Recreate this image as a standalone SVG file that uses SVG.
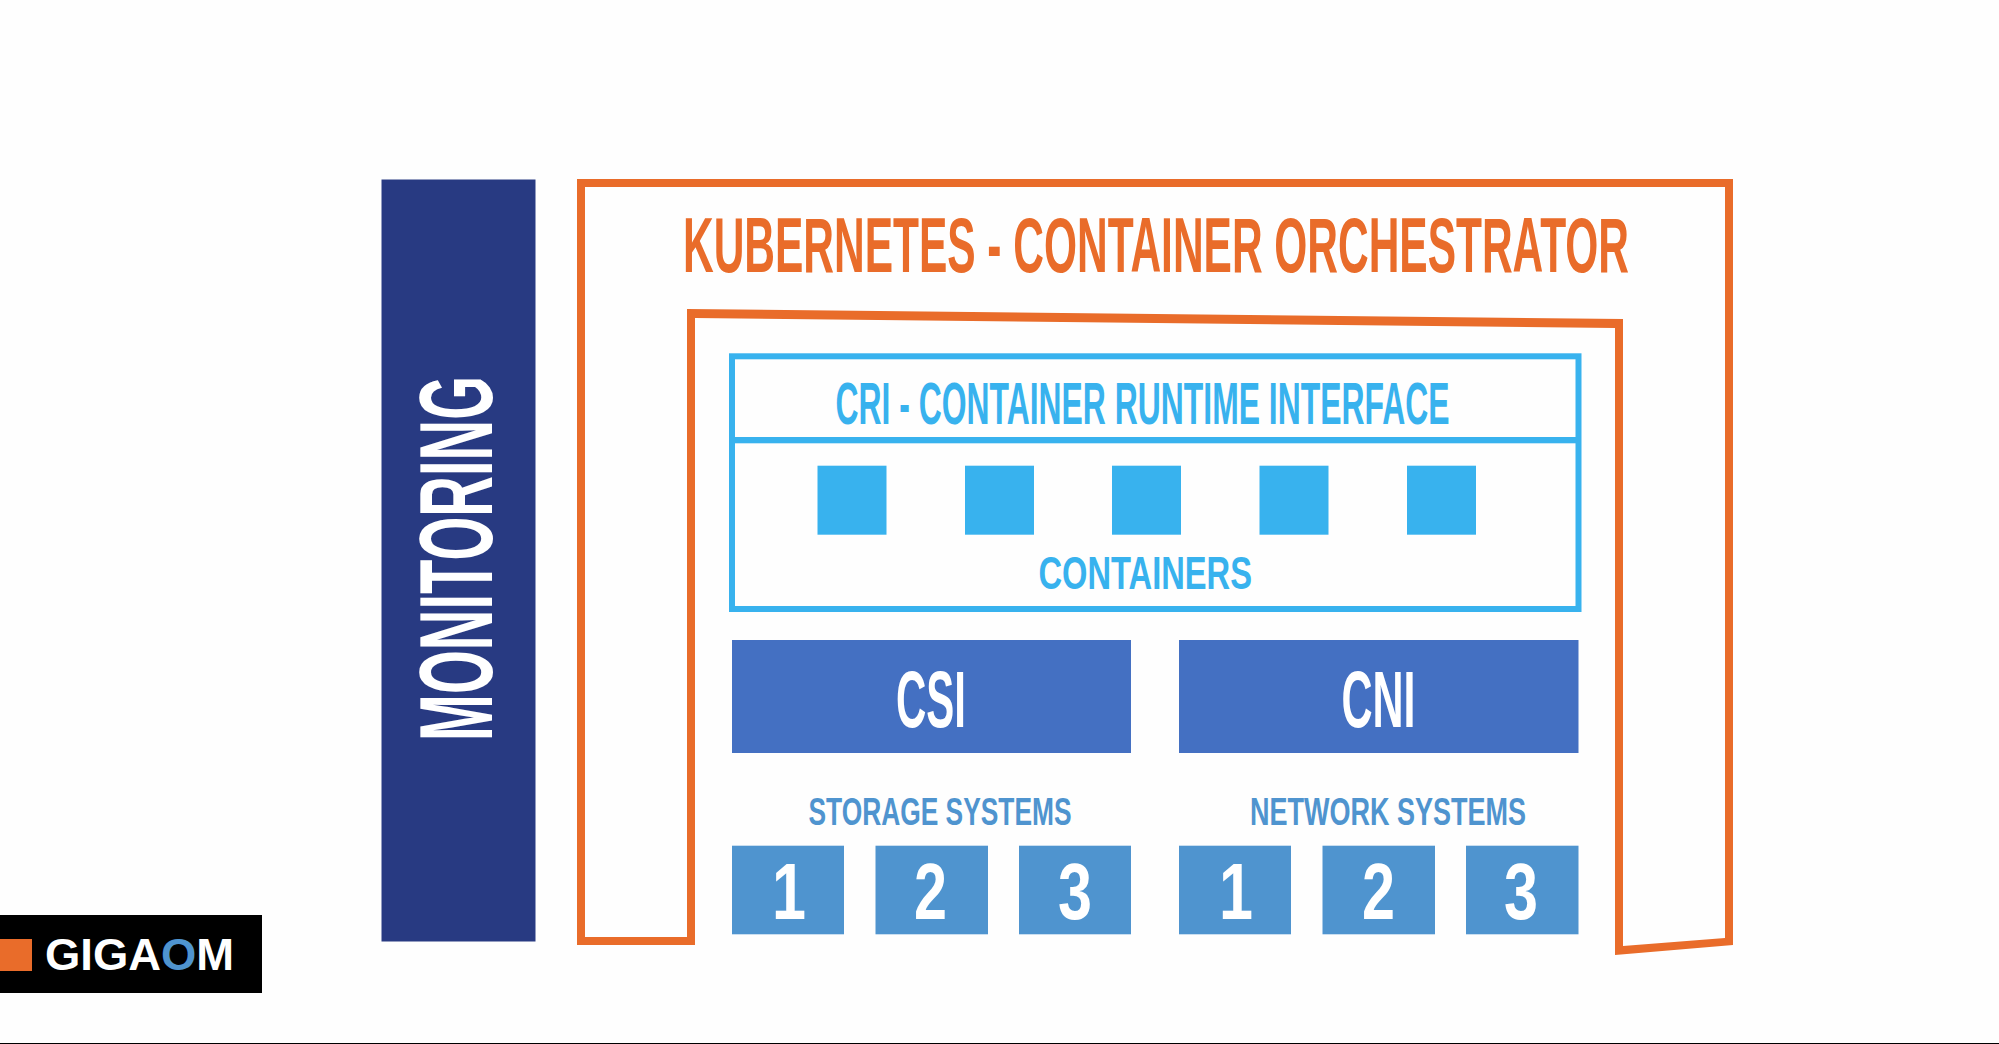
<svg xmlns="http://www.w3.org/2000/svg" width="1999" height="1044" viewBox="0 0 1999 1044">
<style>
text{font-family:"Liberation Sans Narrow","Liberation Sans",Arial,sans-serif;font-weight:700}
.wide{font-family:"Liberation Sans",Arial,sans-serif}
.or{fill:#e96c2a}.cy{fill:#38b2ee}.wh{fill:#fff}.sb{fill:#4f94cf}.mid{fill:#4470c2}
.lbl{font-weight:400;stroke-width:1}
</style>
<rect width="1999" height="1044" fill="#fefefe"/>
<g id="monitoring">
<rect x="381.5" y="179.5" width="154" height="762" fill="#283a82"/>
<text class="wh wide" transform="translate(492 741) rotate(-90)" font-size="104" textLength="365" lengthAdjust="spacingAndGlyphs">MONITORING</text>
</g>
<g id="kubernetes">
<path class="or" fill-rule="evenodd" d="M577 179H1733V945L1615 955V328L695 318V945H577ZM585 187V937H687V309L1623 319V946L1725 938V187Z"/>
<text class="or" x="683" y="272" font-size="77" textLength="946" lengthAdjust="spacingAndGlyphs">KUBERNETES - CONTAINER ORCHESTRATOR</text>
</g>
<g id="cri">
<rect x="732" y="356.3" width="846.5" height="252.7" fill="none" stroke="#38b2ee" stroke-width="6"/>
<rect x="729" y="437" width="852" height="6.3" class="cy"/>
<text class="cy" x="835.5" y="424" font-size="60" textLength="614" lengthAdjust="spacingAndGlyphs">CRI - CONTAINER RUNTIME INTERFACE</text>
</g>
<g id="containers">
<rect class="cy" x="817.5" y="465.7" width="69" height="69"/>
<rect class="cy" x="965" y="465.7" width="69" height="69"/>
<rect class="cy" x="1112" y="465.7" width="69" height="69"/>
<rect class="cy" x="1259.5" y="465.7" width="69" height="69"/>
<rect class="cy" x="1407" y="465.7" width="69" height="69"/>
<text class="cy" x="1038.5" y="589" font-size="46" textLength="213.5" lengthAdjust="spacingAndGlyphs">CONTAINERS</text>
</g>
<g id="csi">
<rect class="mid" x="732" y="640" width="399" height="113"/>
<text class="wh" x="896" y="727" font-size="80" textLength="70" lengthAdjust="spacingAndGlyphs">CSI</text>
</g>
<g id="cni">
<rect class="mid" x="1179" y="640" width="399.5" height="113"/>
<text class="wh" x="1341.5" y="727" font-size="80" textLength="74" lengthAdjust="spacingAndGlyphs">CNI</text>
</g>
<g id="storage">
<text class="sb" x="808.5" y="825" font-size="39" textLength="263" lengthAdjust="spacingAndGlyphs">STORAGE SYSTEMS</text>
<rect class="sb" x="732" y="845.7" width="112" height="88.6"/>
<rect class="sb" x="875.5" y="845.7" width="112.5" height="88.6"/>
<rect class="sb" x="1019" y="845.7" width="112" height="88.6"/>
<text class="wh" x="772" y="919" font-size="80" textLength="34" lengthAdjust="spacingAndGlyphs">1</text>
<text class="wh" x="914" y="919" font-size="80" textLength="33" lengthAdjust="spacingAndGlyphs">2</text>
<text class="wh" x="1058" y="919" font-size="80" textLength="34" lengthAdjust="spacingAndGlyphs">3</text>
</g>
<g id="network">
<text class="sb" x="1250" y="825" font-size="39" textLength="276" lengthAdjust="spacingAndGlyphs">NETWORK SYSTEMS</text>
<rect class="sb" x="1179" y="845.7" width="112" height="88.6"/>
<rect class="sb" x="1322.5" y="845.7" width="112.5" height="88.6"/>
<rect class="sb" x="1466" y="845.7" width="112.5" height="88.6"/>
<text class="wh" x="1219" y="919" font-size="80" textLength="34" lengthAdjust="spacingAndGlyphs">1</text>
<text class="wh" x="1362" y="919" font-size="80" textLength="33" lengthAdjust="spacingAndGlyphs">2</text>
<text class="wh" x="1504" y="919" font-size="80" textLength="34" lengthAdjust="spacingAndGlyphs">3</text>
</g>
<g id="logo">
<rect x="0" y="915" width="262" height="78" fill="#000"/>
<rect class="or" x="0" y="939" width="32" height="32"/>
<text class="wh wide" x="45" y="970" font-size="44" textLength="189" lengthAdjust="spacingAndGlyphs">GIGA<tspan class="sb">O</tspan>M</text>
</g>
<rect id="edge" x="0" y="1043" width="1999" height="1" fill="#000"/>
</svg>
